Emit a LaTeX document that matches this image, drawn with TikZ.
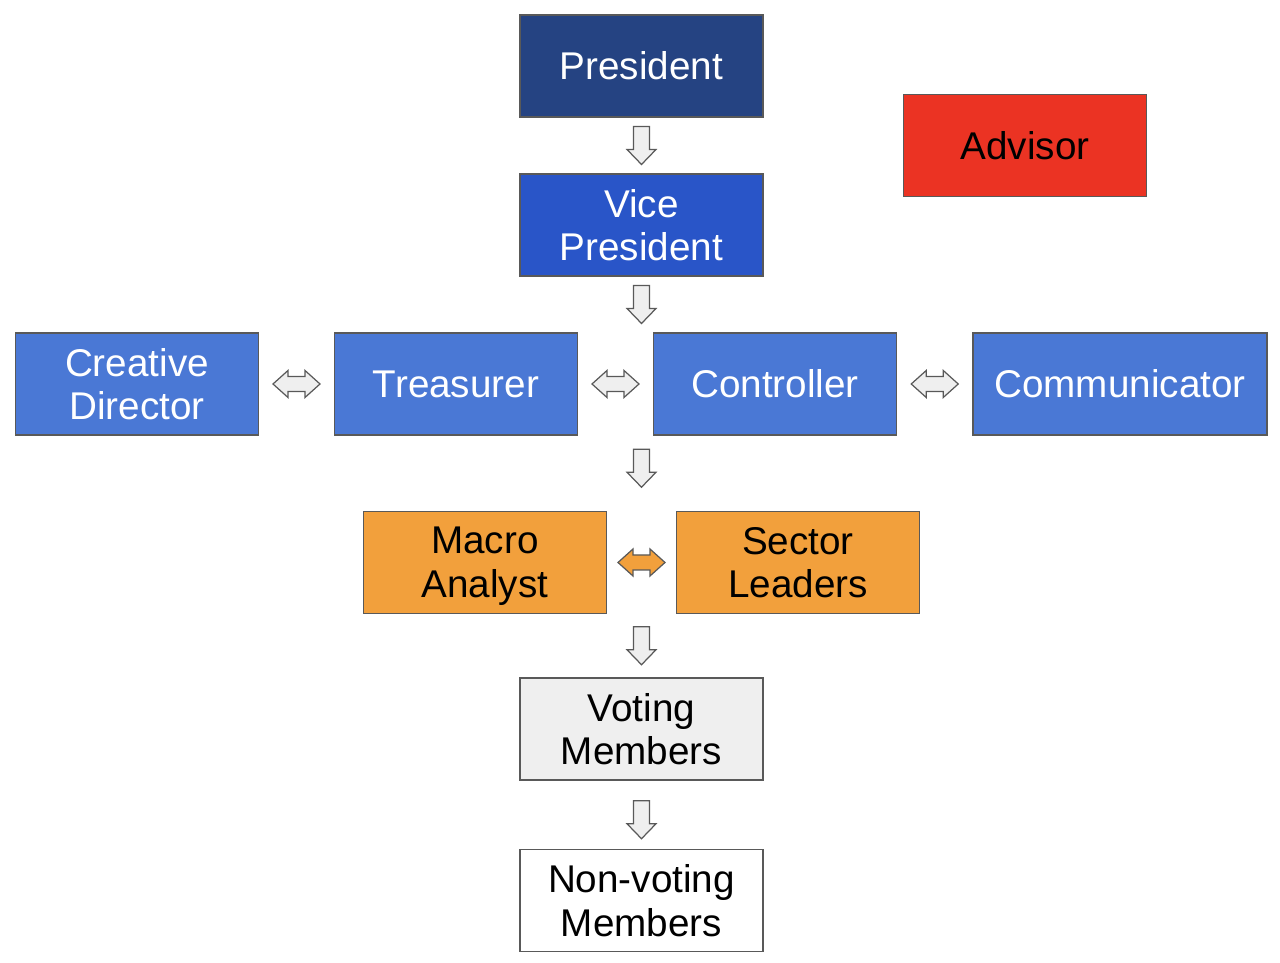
\documentclass[tikz,border=0pt]{standalone}
\usepackage{fontspec}
\setmainfont{Liberation Sans}
\usepackage{tikz}
\usetikzlibrary{positioning,calc}
\definecolor{presblue}{RGB}{37,67,130}
\definecolor{viceblue}{RGB}{41,85,200}
\definecolor{rowblue}{RGB}{74,120,213}
\definecolor{advred}{RGB}{235,51,35}
\definecolor{boxorange}{RGB}{242,160,60}
\definecolor{votegray}{RGB}{239,239,239}
\definecolor{edgegray}{RGB}{89,89,89}
\definecolor{arrowgray}{RGB}{239,239,239}
\newcommand{\boxstrut}{\rule[-0.2em]{0pt}{1.116em}}

\begin{document}
\begin{tikzpicture}[
box/.style={draw=edgegray, line width=0.8pt, minimum width=4.86cm, minimum height=2.04cm,
align=center, font=\fontsize{22}{25}\selectfont, inner sep=2pt,
execute at begin node=\boxstrut, execute at end node=\boxstrut},
twoline/.style={text depth=-0.03em},
bluebox/.style={box, text=white},
blockarr/.style={draw=edgegray, fill=arrowgray, line width=0.7pt, line join=miter},
pics/downarr/.style={code={
\draw[pic actions] (-0.16,0.38) -- (-0.16,-0.08) -- (-0.29,-0.08) -- (0,-0.38)
-- (0.29,-0.08) -- (0.16,-0.08) -- (0.16,0.38) -- cycle;}},
pics/dblarr/.style={code={
\draw[pic actions] (-0.47,0) -- (-0.17,0.27) -- (-0.17,0.15) -- (0.17,0.15) -- (0.17,0.27)
-- (0.47,0) -- (0.17,-0.27) -- (0.17,-0.15) -- (-0.17,-0.15) -- (-0.17,-0.27) -- cycle;}}
]
\useasboundingbox (0,0) rectangle (25.6,19.26);

\node[bluebox, fill=presblue] (pres) at (12.83,17.94) {President};
\node[box, fill=advred] (adv) at (20.5,16.35) {Advisor};
\node[bluebox, twoline, fill=viceblue] (vp) at (12.83,14.76) {Vice\\President};

\node[bluebox, twoline, fill=rowblue] (cd) at (2.74,11.58) {Creative\\Director};
\node[bluebox, fill=rowblue] (treas) at (9.12,11.58) {Treasurer};
\node[bluebox, fill=rowblue] (ctrl) at (15.5,11.58) {Controller};
\node[bluebox, fill=rowblue, minimum width=5.88cm] (comm) at (22.4,11.58) {Communicator};

\node[box, twoline, fill=boxorange] (macro) at (9.70,8.01) {Macro\\Analyst};
\node[box, twoline, fill=boxorange] (sector) at (15.96,8.01) {Sector\\Leaders};

\node[box, twoline, fill=votegray] (vote) at (12.83,4.68) {Voting\\Members};
\node[box, twoline, fill=white] (nonvote) at (12.83,1.25) {Non-voting\\Members};

% block arrows between the boxes
\pic[blockarr] at ($(pres.south)!0.5!(vp.north)$) {downarr};
\pic[blockarr] at ($(vp.south)!0.5!(vp.south |- ctrl.north)$) {downarr};
\pic[blockarr, yshift=0.1cm] at ($(vp.south |- ctrl.south)!0.5!(vp.south |- macro.north)$) {downarr};
\pic[blockarr] at ($(vp.south |- macro.south)!0.5!(vote.north)$) {downarr};
\pic[blockarr, yshift=-0.1cm] at ($(vote.south)!0.5!(nonvote.north)$) {downarr};

\pic[blockarr] at ($(cd.east)!0.5!(treas.west)$) {dblarr};
\pic[blockarr] at ($(treas.east)!0.5!(ctrl.west)$) {dblarr};
\pic[blockarr] at ($(ctrl.east)!0.5!(comm.west)$) {dblarr};
\pic[blockarr, fill=boxorange] at ($(macro.east)!0.5!(sector.west)$) {dblarr};

\end{tikzpicture}
\end{document}
